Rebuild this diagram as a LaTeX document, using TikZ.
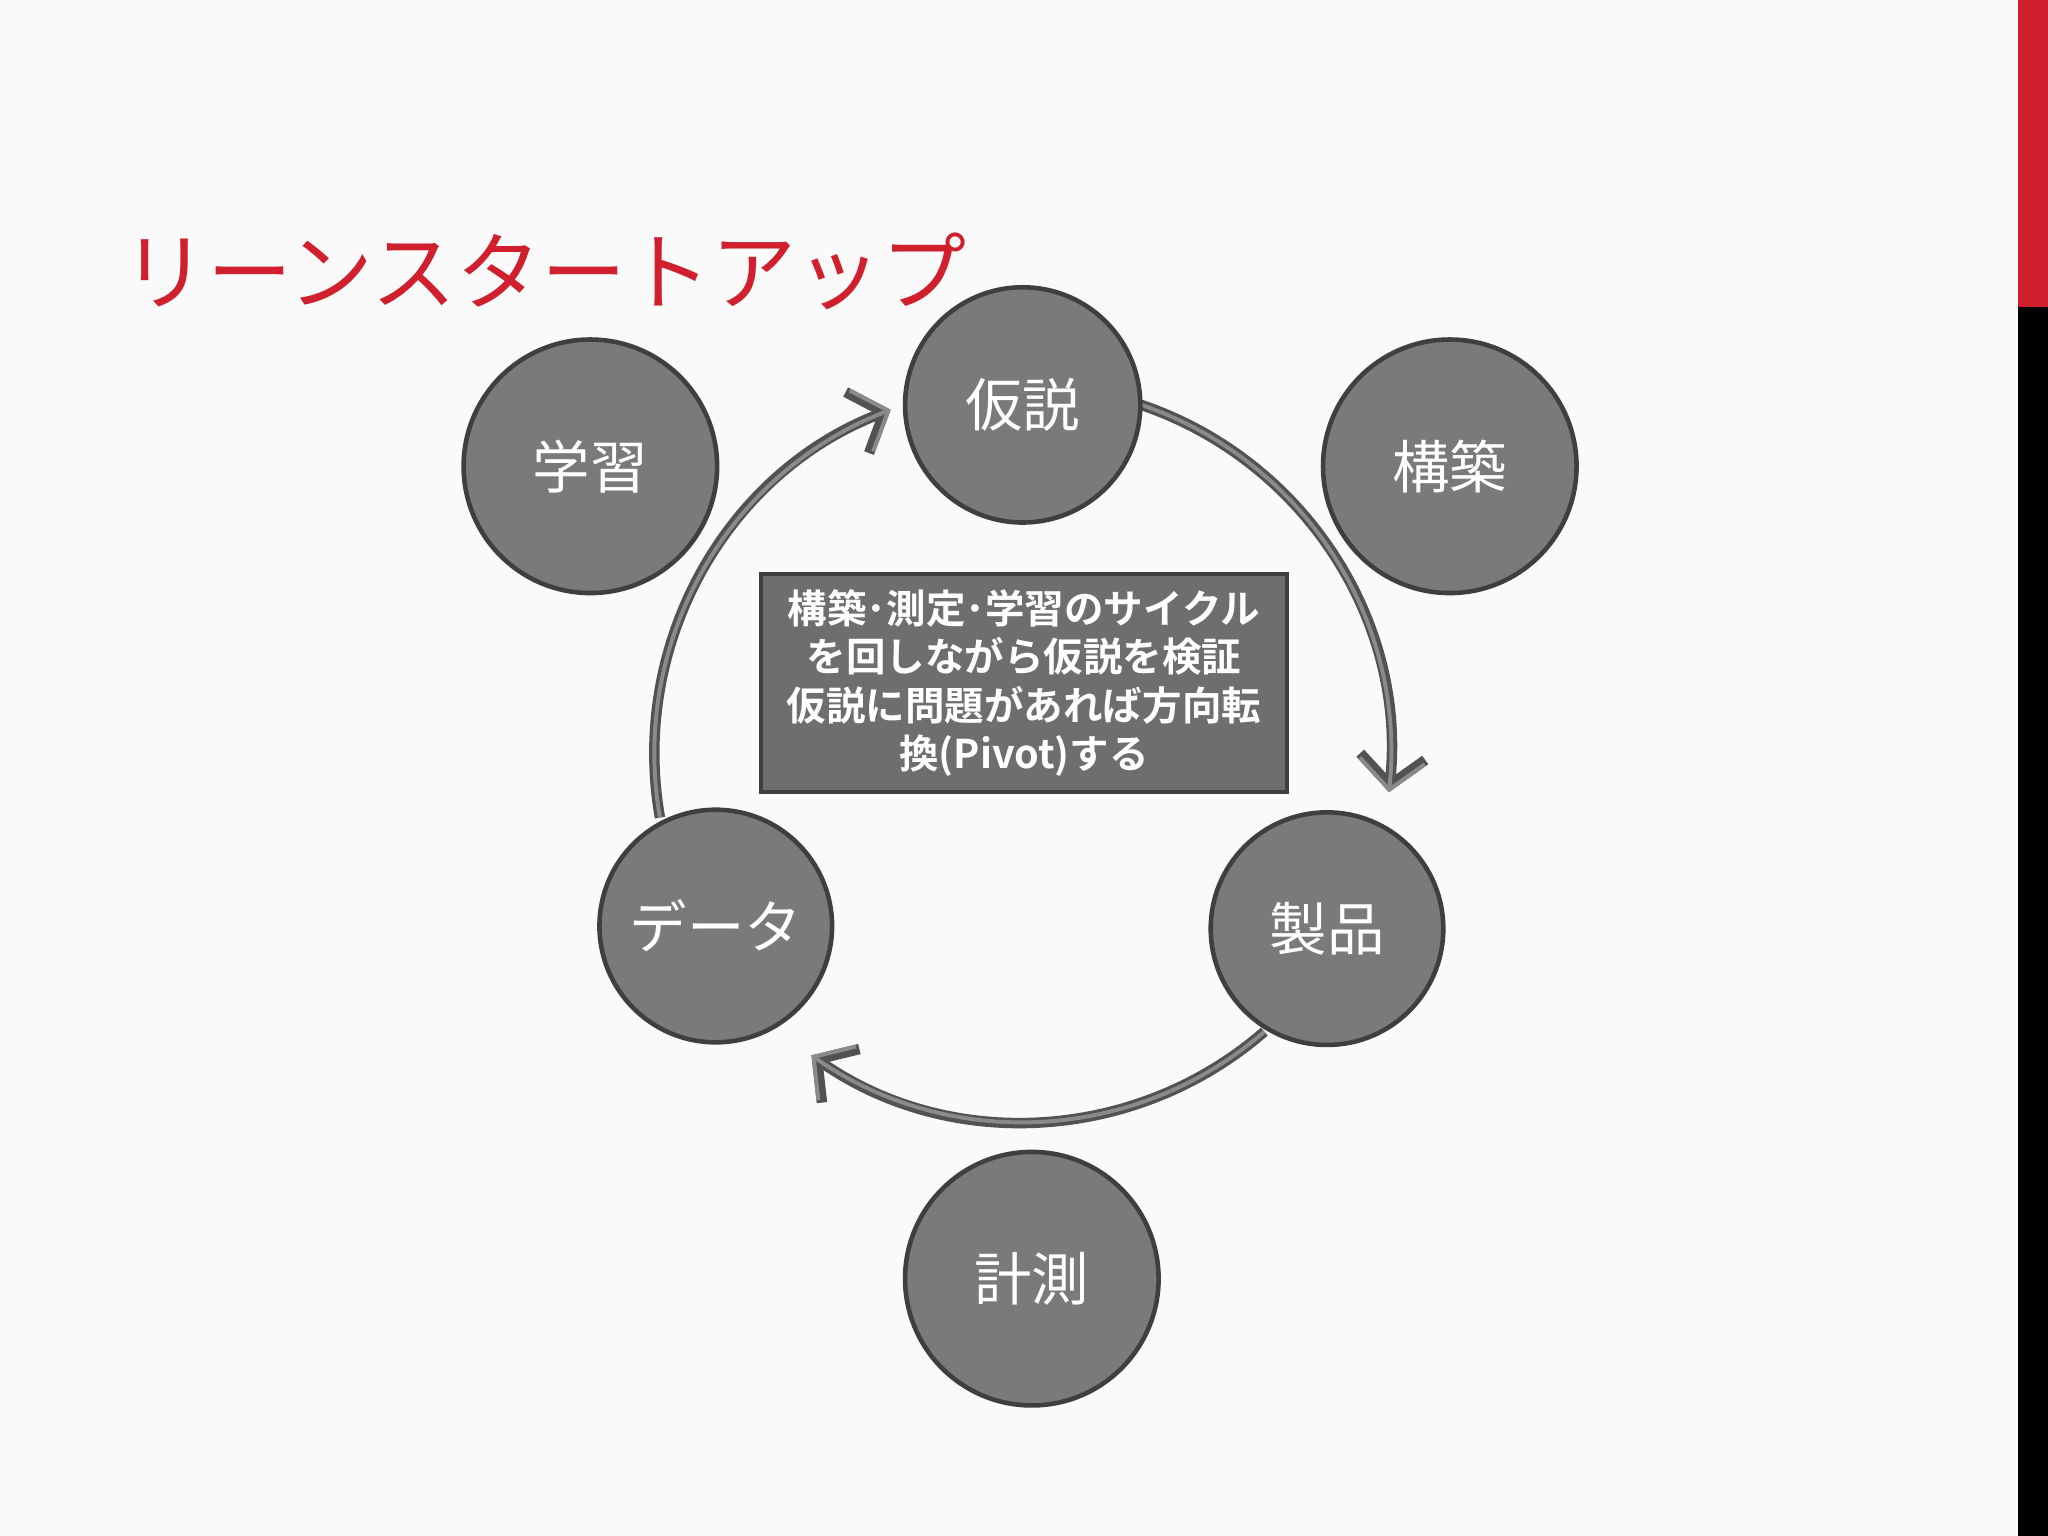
\documentclass[tikz,border=0pt]{standalone}
\usepackage{fontspec}
\setmainfont{Noto Sans CJK JP}
\newfontfamily\jpb{Noto Sans CJK JP}[BoldFont={Noto Sans CJK JP Bold}]
\usetikzlibrary{arrows.meta}
\definecolor{ttl}{HTML}{D0202E}
\definecolor{cfill}{HTML}{7A797B}
\definecolor{cedge}{HTML}{3F3F3F}
\definecolor{bfill}{HTML}{6E6D6F}
\definecolor{arrin}{HTML}{8A898B}
\tikzset{
  circ/.style={circle,fill=cfill,draw=cedge,line width=0.035cm,text=white,font=\fontsize{12.5}{14}\selectfont,inner sep=0pt},
  cycout/.style={cedge!90,line width=0.08cm,-{Straight Barb[length=0.22cm,width=0.5cm,line width=0.08cm]}},
  cycin/.style={arrin,line width=0.03cm,-{Straight Barb[length=0.22cm,width=0.5cm,line width=0.03cm]}}
}
\begin{document}
\begin{tikzpicture}[x=0.01cm,y=-0.01cm]
\useasboundingbox (0,0) rectangle (1568,1176);
\fill[white!98!black] (0,0) rectangle (1568,1176);
\fill[ttl] (1545,0) rectangle (1568,235);
\fill[black] (1545,235) rectangle (1568,1176);
\node[anchor=base west,text=ttl,font=\fontsize{18.5}{20}\selectfont,inner sep=0pt] (title) at (93,232) {リーンスタートアップ};
% arcs
\coordinate (c) at (783,577);
\foreach \s/\e in {-72/6,49/125,170/249}{
  \draw[cycout] ([shift={(\s:282)}]c) arc[start angle=\s,end angle=\e,radius=282];
  \draw[cycin] ([shift={(\s:282)}]c) arc[start angle=\s,end angle=\e,radius=282];
}
% circles
\node[circ,minimum size=1.94cm] (learn) at (452,357) {学習};
\node[circ,minimum size=1.8cm] (hyp) at (783,310) {仮説};
\node[circ,minimum size=1.94cm] (build) at (1110,357) {構築};
\node[circ,minimum size=1.78cm] (prod) at (1016,711) {製品};
\node[circ,minimum size=1.78cm] (data) at (548,709) {データ};
\node[circ,minimum size=1.94cm] (meas) at (790,979) {計測};
% box
\node[fill=bfill,draw=cedge,line width=0.03cm,minimum width=4.02cm,minimum height=1.67cm,text=white,align=center,font=\jpb\bfseries\fontsize{8.6}{10.5}\selectfont,inner sep=0pt] (box) at (784,523)
{構築･測定･学習のサイクル\\を回しながら仮説を検証\\仮説に問題があれば方向転\\換(Pivot)する};
\end{tikzpicture}
\end{document}
